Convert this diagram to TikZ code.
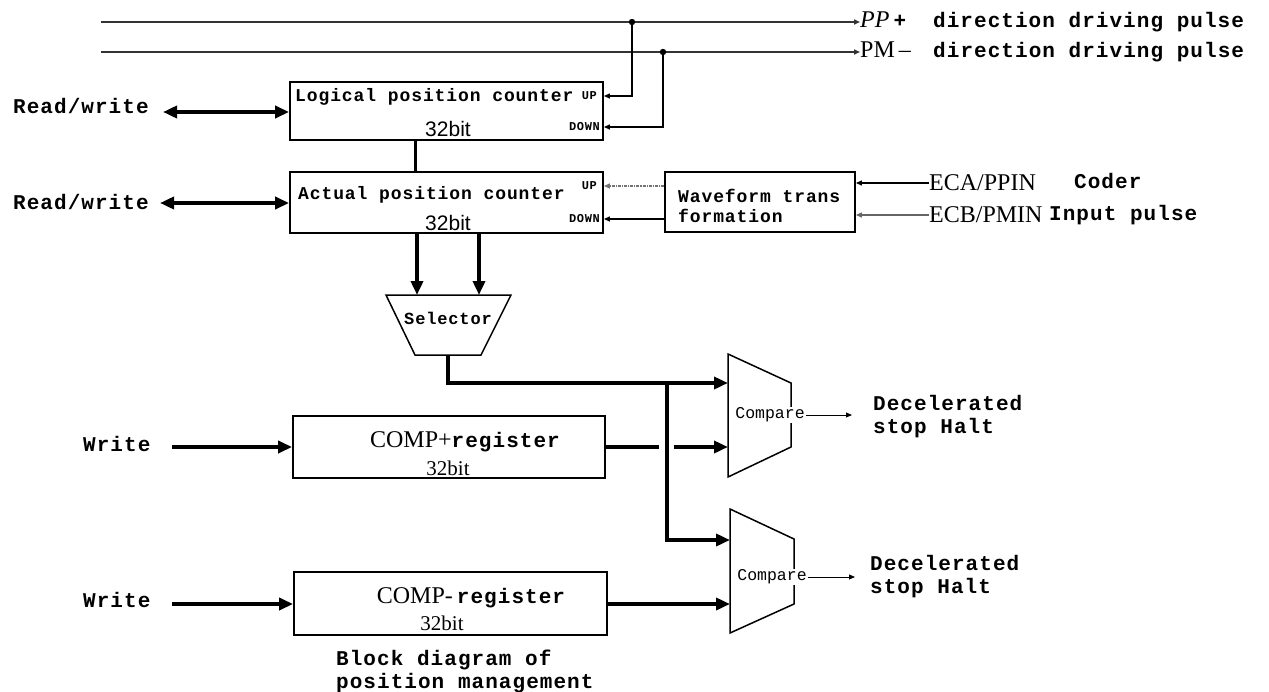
\documentclass[tikz,border=0pt]{standalone}
\usepackage{fontspec}
\setmainfont{Liberation Serif}
\setsansfont{Liberation Sans}
\newfontfamily\pixfont[LetterSpace=5]{Liberation Mono}
\newfontfamily\plainmono{Liberation Mono}
\usetikzlibrary{arrows.meta}

\newcommand{\bigpix}{\pixfont\bfseries\fontsize{21}{23}\selectfont}
\newcommand{\boxpix}{\pixfont\bfseries\fontsize{18}{20}\selectfont}
\newcommand{\tinypix}{\pixfont\bfseries\fontsize{12}{12}\selectfont}
\newcommand{\bigserif}{\rmfamily\fontsize{24}{24}\selectfont}
\newcommand{\bitsans}{\sffamily\fontsize{21}{21}\selectfont}
\newcommand{\bitserif}{\rmfamily\fontsize{21}{21}\selectfont}

\begin{document}
\begin{tikzpicture}[x=1pt,y=-1pt,
  box/.style={draw,line width=1.8pt,inner sep=0pt},
  bus/.style={line width=3.5pt,-{Triangle[length=14pt,width=12pt]}},
  busboth/.style={line width=3.5pt,{Triangle[length=14pt,width=12pt]}-{Triangle[length=14pt,width=12pt]}},
  sig/.style={line width=1.2pt,-{Triangle[length=6pt,width=5pt]}},
  lbl/.style={anchor=west,inner sep=0pt}]

\useasboundingbox (0,0) rectangle (1269,691);

%draw the two driving pulse lines
\coordinate (pps) at (101,22);
\coordinate (pms) at (101,52);
\node[lbl] (pp) at (860,22) {\makebox[73pt][l]{\bigserif\textit{PP}\,\bigpix +}\bigpix direction driving pulse};
\node[lbl] (pm) at (860,52) {\makebox[73pt][l]{\bigserif PM\,--}\bigpix direction driving pulse};
\draw[sig,line width=2pt,black!80] (pps) -- (pp.west);
\draw[sig,line width=2pt,black!80] (pms) -- (pm.west);
\coordinate (ppdot) at (632,22);
\coordinate (pmdot) at (663,52);
\fill (ppdot) circle (3.2pt);
\fill (pmdot) circle (3.2pt);

%logical position counter
\node[box,minimum width=313pt,minimum height=58pt] (logic) at (446.5,111) {};
\node[lbl] (logtxt) at (295,97) {\boxpix Logical position counter};
\node[anchor=east,inner sep=0pt] (logup) at (597,96) {\tinypix UP};
\node[anchor=east,inner sep=0pt] (logdn) at (600,127) {\tinypix DOWN};
\node (logbit) at (448,129) {\bitsans 32bit};
\draw[sig] (ppdot) |- (logic.east |- logup);
\draw[sig] (pmdot) |- (logic.east |- logdn);

%actual position counter
\node[box,minimum width=313pt,minimum height=61pt] (act) at (446.5,202.5) {};
\node[lbl] (acttxt) at (298,195) {\boxpix Actual position counter};
\node[anchor=east,inner sep=0pt] (actup) at (597,186) {\tinypix UP};
\node[anchor=east,inner sep=0pt] (actdn) at (600,219) {\tinypix DOWN};
\node (actbit) at (448,223) {\bitsans 32bit};
\draw[line width=3pt] (logic.south -| 415,0) -- (act.north -| 415,0);

%read/write ports
\node[lbl] (rw1) at (13,106) {\bigpix Read/write};
\node[lbl] (rw2) at (13,202) {\bigpix Read/write};
\coordinate (rwa1) at (163,112);
\coordinate (rwa2) at (160,203);
\draw[busboth] (rwa1) -- (rwa1 -| logic.west);
\draw[busboth] (rwa2) -- (rwa2 -| act.west);

%waveform transformation and encoder inputs
\node[box,minimum width=190pt,minimum height=60pt] (wave) at (760,202) {};
\node[lbl,align=left,font=\boxpix] (wavetxt) at (678,206) {Waveform trans\\formation};
\draw[sig,densely dash dot,black!55] (wave.west |- actup) -- (act.east |- actup);
\draw[sig] (wave.west |- actdn) -- (act.east |- actdn);
\node[lbl] (eca) at (929,183) {\bigserif ECA/PPIN};
\node[lbl] (ecb) at (929,215) {\bigserif ECB/PMIN};
\node[lbl] (coder) at (1074,181) {\bigpix Coder};
\node[lbl] (inpulse) at (1049,215) {\bigpix Input pulse};
\draw[sig] (eca.west) -- (wave.east |- eca.west);
\draw[sig,black!60] (ecb.west) -- (wave.east |- ecb.west);

%selector
\draw[line width=1.5pt] (386,295) -- (511,295) -- (481,355) -- (415,355) -- cycle;
\node (sel) at (448,318) {\pixfont\bfseries\fontsize{17}{17}\selectfont Selector};
\coordinate (selin1) at (417,295);
\coordinate (selin2) at (479,295);
\coordinate (selout) at (448,355);
\draw[bus] (act.south -| selin1) -- (selin1);
\draw[bus] (act.south -| selin2) -- (selin2);

%compare blocks
\draw[line width=1.5pt] (728,354) -- (791,383) -- (791,447) -- (728,477) -- cycle;
\draw[line width=1.5pt] (730,509) -- (794,539) -- (794,604) -- (730,633) -- cycle;
\node[fill=white,inner sep=1pt] (cmp1) at (770,415) {\plainmono\fontsize{16.5}{16.5}\selectfont Compare};
\node[fill=white,inner sep=1pt] (cmp2) at (772,577) {\plainmono\fontsize{16.5}{16.5}\selectfont Compare};
\coordinate (c1a) at (728,383);
\coordinate (c1b) at (728,447);
\coordinate (c2a) at (730,540);
\coordinate (c2b) at (730,604);
\coordinate (jn) at (667,383);
\draw[bus] (selout) |- (c1a);
\draw[bus] (jn) |- (c2a);

%comparison registers
\node[box,minimum width=312pt,minimum height=62pt] (compp) at (449,447) {};
\node (compptxt) at (465,442) {\bigserif COMP+\bigpix register};
\node (comppbit) at (448,468) {\bitserif 32bit};
\node[box,minimum width=313pt,minimum height=63pt] (compm) at (450.5,603.5) {};
\node (compmtxt) at (471,598) {\bigserif COMP-\,\bigpix register};
\node (compmbit) at (442,623) {\bitserif 32bit};
\node[lbl] (wr1) at (83,444) {\bigpix Write};
\node[lbl] (wr2) at (83,600) {\bigpix Write};
\coordinate (wra1) at (172,447);
\coordinate (wra2) at (172,604);
\draw[bus] (wra1) -- (wra1 -| compp.west);
\draw[bus] (wra2) -- (wra2 -| compm.west);
\coordinate (gapl) at (659,447);
\coordinate (gapr) at (674,447);
\draw[line width=3.5pt] (compp.east |- c1b) -- (gapl);
\draw[bus] (gapr) -- (c1b);
\draw[bus] (compm.east |- c2b) -- (c2b);

%outputs
\node[lbl,align=left,font=\bigpix] (dec1) at (873,417) {Decelerated\\stop Halt};
\node[lbl,align=left,font=\bigpix] (dec2) at (870,577) {Decelerated\\stop Halt};
\coordinate (o1) at (852,415);
\coordinate (o2) at (855,577);
\draw[sig,line width=0.8pt] (cmp1.east) -- (o1);
\draw[sig,line width=0.8pt] (cmp2.east) -- (o2);

\node[lbl,align=left,font=\bigpix] (title) at (336,671) {Block diagram of\\position management};

\end{tikzpicture}
\end{document}
